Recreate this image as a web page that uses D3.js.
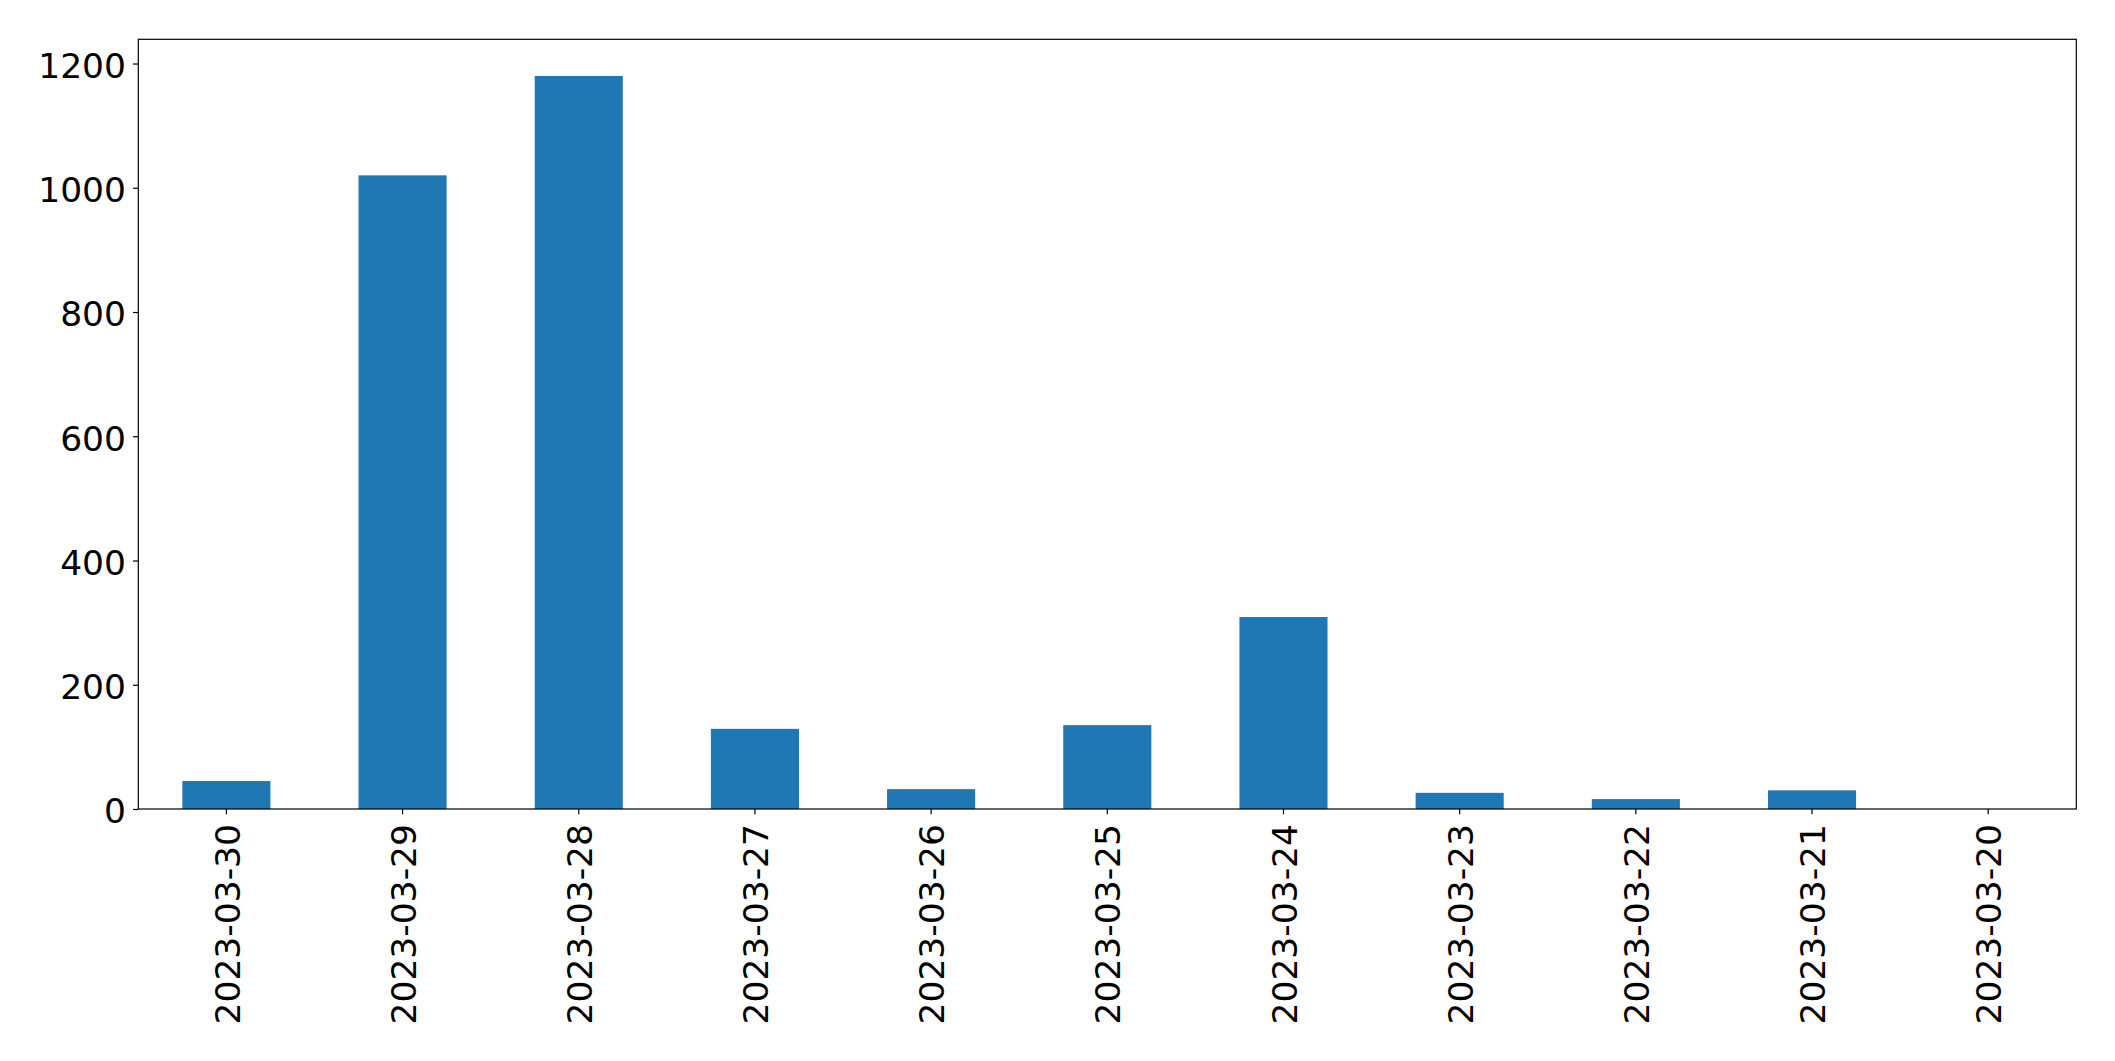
<!DOCTYPE html>
<html>
<head>
<meta charset="utf-8">
<script src="https://cdn.jsdelivr.net/npm/d3@7"></script>
<style>
  html, body { margin: 0; padding: 0; background: #fff; }
  svg { display: block; }
  text { font-family: "DejaVu Sans", sans-serif; }
</style>
</head>
<body>
<svg id="chart" width="2115" height="1061"></svg>
<script>
const categories = ["2023-03-30","2023-03-29","2023-03-28","2023-03-27","2023-03-26","2023-03-25","2023-03-24","2023-03-23","2023-03-22","2023-03-21","2023-03-20"];
const values = [45, 1020, 1180, 129, 32, 135, 309, 26, 16, 30, 0];
const yTicks = [0, 200, 400, 600, 800, 1000, 1200];

const plotLeft = 138.3, plotRight = 2076.3, plotTop = 39.3, plotBottom = 809;
const fontPx = 34.5;

const svg = d3.select("#chart");

const x = d3.scaleBand()
  .domain(categories)
  .range([plotLeft, plotRight])
  .paddingInner(0.5)
  .paddingOuter(0.25);

const yMax = d3.max(values) * 1.05;
const y = d3.scaleLinear().domain([0, yMax]).range([plotBottom, plotTop]);

// bars
svg.append("g")
  .selectAll("rect")
  .data(values)
  .join("rect")
  .attr("x", (d, i) => x(categories[i]))
  .attr("width", x.bandwidth())
  .attr("y", d => y(d))
  .attr("height", d => y(0) - y(d))
  .attr("fill", "#1f77b4");

// y axis
const yAxis = svg.append("g")
  .attr("transform", `translate(${plotLeft},0)`)
  .call(d3.axisLeft(y).tickValues(yTicks).tickFormat(d3.format("d")).tickSize(5.3).tickPadding(7));
yAxis.select(".domain").remove();
yAxis.selectAll(".tick line").attr("stroke", "#000").attr("stroke-width", 1.2);
yAxis.selectAll(".tick text")
  .attr("font-size", fontPx)
  .attr("font-family", "DejaVu Sans, sans-serif")
  .attr("fill", "#000")
  .attr("dy", "0.4em");

// x axis
const xAxis = svg.append("g")
  .attr("transform", `translate(0,${plotBottom})`)
  .call(d3.axisBottom(x).tickSize(5.3).tickPadding(0));
xAxis.select(".domain").remove();
xAxis.selectAll(".tick line").attr("stroke", "#000").attr("stroke-width", 1.2);
xAxis.selectAll(".tick text")
  .attr("font-size", fontPx)
  .attr("font-family", "DejaVu Sans, sans-serif")
  .attr("fill", "#000")
  .attr("text-anchor", "end")
  .attr("transform", "translate(0,15) rotate(-90)")
  .attr("x", 0)
  .attr("y", 0)
  .attr("dy", "0.38em");

// frame
svg.append("rect")
  .attr("x", plotLeft)
  .attr("y", plotTop)
  .attr("width", plotRight - plotLeft)
  .attr("height", plotBottom - plotTop)
  .attr("fill", "none")
  .attr("stroke", "#000")
  .attr("stroke-width", 1.2);
</script>
</body>
</html>
